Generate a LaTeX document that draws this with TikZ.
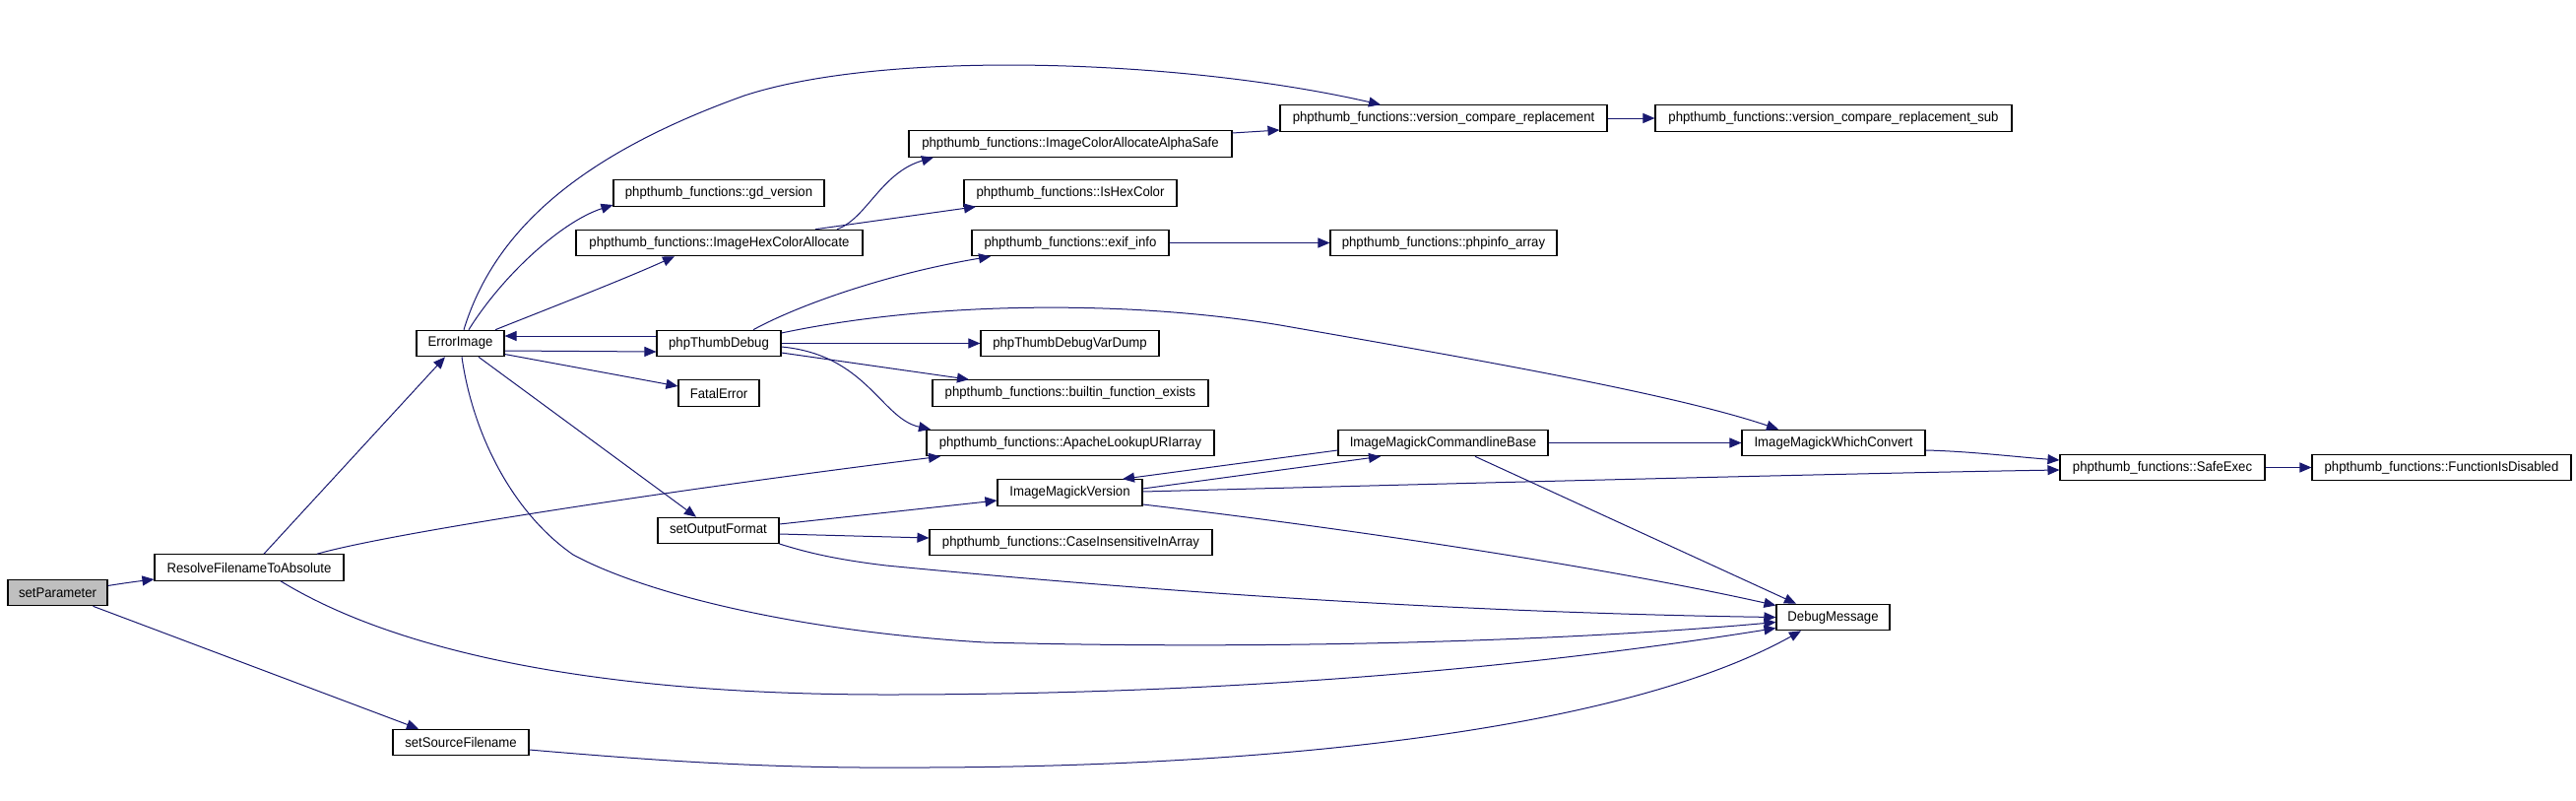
\documentclass[tikz,border=0pt]{standalone}
\usepackage{fontspec}
\setmainfont[FakeStretch=0.94]{Liberation Sans}
\usetikzlibrary{arrows.meta}
\definecolor{edgeblue}{HTML}{191970}
\definecolor{rootgray}{HTML}{BFBFBF}
\begin{document}
\begin{tikzpicture}[x=1pt,y=-1pt,
  fn/.style={draw=black, line width=1.1pt, fill=white, inner sep=0pt, minimum height=26.5pt, font=\fontsize{14}{16}\selectfont},
  conn/.style={draw=edgeblue, line width=1pt, -{Triangle[length=12pt,width=10pt]}}]
\useasboundingbox (0,0) rectangle (2616,812);
% nodes
\node[fn, fill=rootgray, minimum width=101] (sp) at (58.5,601.5) {setParameter};
\node[fn, minimum width=192] (rfa) at (253,576) {ResolveFilenameToAbsolute};
\node[fn, minimum width=138] (ssf) at (468,753.5) {setSourceFilename};
\node[fn, minimum width=89] (ei) at (467.5,348.5) {ErrorImage};
\node[fn, minimum width=214] (gdv) at (730,196) {phpthumb\_functions::gd\_version};
\node[fn, minimum width=291] (ihca) at (730.5,246.5) {phpthumb\_functions::ImageHexColorAllocate};
\node[fn, minimum width=126] (ptd) at (730,348.5) {phpThumbDebug};
\node[fn, minimum width=82] (fe) at (730,399) {FatalError};
\node[fn, minimum width=123] (sof) at (729.5,538.5) {setOutputFormat};
\node[fn, minimum width=328] (icaas) at (1087,146) {phpthumb\_functions::ImageColorAllocateAlphaSafe};
\node[fn, minimum width=216] (ihc) at (1087,196) {phpthumb\_functions::IsHexColor};
\node[fn, minimum width=200] (exif) at (1087,246.5) {phpthumb\_functions::exif\_info};
\node[fn, minimum width=181] (ptdvd) at (1086.5,348.5) {phpThumbDebugVarDump};
\node[fn, minimum width=280] (bfe) at (1087,399) {phpthumb\_functions::builtin\_function\_exists};
\node[fn, minimum width=292] (alu) at (1087,449.5) {phpthumb\_functions::ApacheLookupURIarray};
\node[fn, minimum width=147] (imv) at (1086.5,500) {ImageMagickVersion};
\node[fn, minimum width=287] (ciia) at (1087.5,550.5) {phpthumb\_functions::CaseInsensitiveInArray};
\node[fn, minimum width=332] (vcr) at (1466,120) {phpthumb\_functions::version\_compare\_replacement};
\node[fn, minimum width=230] (pia) at (1466,246.5) {phpthumb\_functions::phpinfo\_array};
\node[fn, minimum width=213] (imcb) at (1465.5,449.5) {ImageMagickCommandlineBase};
\node[fn, minimum width=362] (vcrs) at (1862,120) {phpthumb\_functions::version\_compare\_replacement\_sub};
\node[fn, minimum width=186] (imwc) at (1862,449.5) {ImageMagickWhichConvert};
\node[fn, minimum width=115] (dm) at (1861.5,626.5) {DebugMessage};
\node[fn, minimum width=208] (se) at (2196,474.5) {phpthumb\_functions::SafeExec};
\node[fn, minimum width=263] (fid) at (2479.5,474.5) {phpthumb\_functions::FunctionIsDisabled};
% edges
\draw[conn] ([yshift=7]sp.east) .. controls (125,592) and (140,590) .. ([yshift=-12]rfa.west);
\draw[conn] ([xshift=36]sp.south) -- ([xshift=-43]ssf.north);
\draw[conn] ([xshift=15]rfa.north) -- ([xshift=-15.5]ei.south);
\draw[conn] ([xshift=69]rfa.north) .. controls (400,540) and (700,495) .. ([xshift=-132]alu.south);
\draw[conn] ([xshift=32]rfa.south) .. controls (400,660) and (600,705) .. (900,705) .. controls (1300,705) and (1600,670) .. ([yshift=-11]dm.west);
\draw[conn] ([xshift=1.5]ei.south) .. controls (480,440) and (520,520) .. (582,563) .. controls (650,600) and (800,640) .. (1000,652) .. controls (1300,660) and (1600,650) .. ([yshift=-5]dm.west);
\draw[conn] ([yshift=-7.5]ssf.east) .. controls (700,775) and (800,780) .. (940,779) .. controls (1300,778) and (1650,740) .. ([xshift=-32.5]dm.south);
\draw[conn] ([xshift=8.5]ei.north) .. controls (510,280) and (570,225) .. ([yshift=-12]gdv.west);
\draw[conn] ([xshift=3.5]ei.north) .. controls (500,240) and (580,160) .. (756,97) .. controls (900,50) and (1200,60) .. ([xshift=-64]vcr.north);
\draw[conn] ([xshift=35.5]ei.north) .. controls (560,312) and (630,285) .. ([xshift=-45.5]ihca.south);
\draw[conn] ([yshift=-7.5]ei.east) -- ([yshift=-8.5]ptd.west);
\draw[conn] ([yshift=7.5]ptd.west) -- ([yshift=7.5]ei.east);
\draw[conn] ([yshift=-11]ei.east) -- ([yshift=7]fe.west);
\draw[conn] ([xshift=18.5]ei.south) -- ([xshift=-22.5]sof.north);
\draw[conn] ([xshift=119.5]ihca.north) .. controls (880,222) and (895,175) .. ([xshift=-139]icaas.south);
\draw[conn] ([xshift=97.5]ihca.north) -- ([xshift=-96]ihc.south);
\draw[conn] ([yshift=11]icaas.east) -- ([yshift=-12]vcr.west);
\draw[conn] (vcr.east) -- (vcrs.west);
\draw[conn] ([xshift=35]ptd.north) .. controls (810,310) and (900,278) .. ([xshift=-81]exif.south);
\draw[conn] (exif.east) -- (pia.west);
\draw[conn] (ptd.east) -- (ptdvd.west);
\draw[conn] ([yshift=-9.5]ptd.east) -- ([xshift=-103]bfe.north);
\draw[conn] ([yshift=-3.5]ptd.east) .. controls (880,360) and (895,425) .. ([xshift=-142]alu.north);
\draw[conn] ([yshift=10.5]ptd.east) .. controls (950,305) and (1150,305) .. (1300,330) .. controls (1500,365) and (1700,400) .. ([xshift=-56]imwc.north);
\draw[conn] ([yshift=6.5]sof.east) -- ([yshift=-8]imv.west);
\draw[conn] ([yshift=-3.5]sof.east) -- ([yshift=4.5]ciia.west);
\draw[conn] ([yshift=-13.5]sof.east) .. controls (820,561) and (850,568) .. (900,574) .. controls (1200,603) and (1500,622) .. (dm.west);
\draw[conn] ([yshift=4]imv.east) -- ([xshift=-63.5]imcb.south);
\draw[conn] ([yshift=-7.5]imcb.west) -- ([xshift=53.5]imv.north);
\draw[conn] ([yshift=1]imv.east) .. controls (1500,490) and (1900,480) .. ([yshift=-2.5]se.west);
\draw[conn] ([yshift=-12]imv.east) .. controls (1400,540) and (1650,580) .. ([yshift=12]dm.west);
\draw[conn] (imcb.east) -- (imwc.west);
\draw[conn] ([xshift=32.5]imcb.south) -- ([xshift=-37.5]dm.north);
\draw[conn] ([yshift=-7.5]imwc.east) .. controls (2000,458) and (2050,464) .. ([yshift=7.5]se.west);
\draw[conn] (se.east) -- (fid.west);
\end{tikzpicture}
\end{document}
